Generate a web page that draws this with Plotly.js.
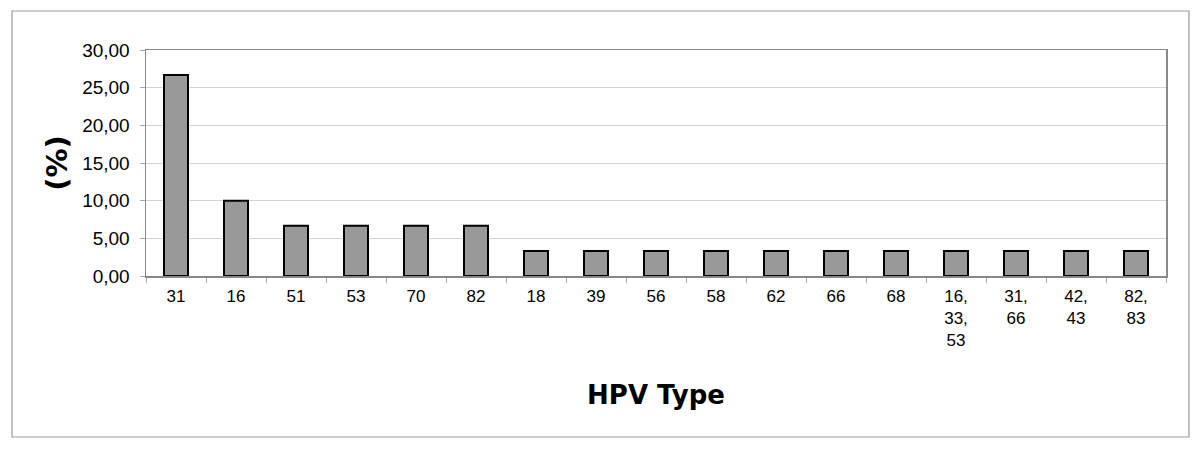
<!DOCTYPE html>
<html><head><meta charset="utf-8">
<script src="https://cdn.plot.ly/plotly-3.0.1.min.js"></script>
<style>body{margin:0;background:#fff}#c{width:1200px;height:449px}</style>
</head><body><div id="c"></div>
<script>
const categories = ["31","16","51","53","70","82","18","39","56","58","62","66","68","16,<br>33,<br>53","31,<br>66","42,<br>43","82,<br>83"];
const percent = [26.67,10.0,6.67,6.67,6.67,6.67,3.33,3.33,3.33,3.33,3.33,3.33,3.33,3.33,3.33,3.33,3.33];
const yTicks = [0,5,10,15,20,25,30];

const trace = {
  type:'bar', x: categories, y: percent,
  marker:{color:'#999999', line:{color:'#000000', width:2}},
  width:0.4, hoverinfo:'x+y'
};
const layout = {
  width:1200, height:449,
  margin:{l:146, r:34, t:50, b:173},
  paper_bgcolor:'#ffffff', plot_bgcolor:'#ffffff',
  separators:',.',
  showlegend:false,
  font:{family:'Liberation Sans, Arial, sans-serif', size:15, color:'#000'},
  xaxis:{
    type:'category', showline:true, mirror:true, linecolor:'#888888', linewidth:1.5,
    ticks:'outside', tickson:'boundaries', ticklen:5, tickcolor:'#aaaaaa',
    tickfont:{size:17, family:'Liberation Sans, Arial, sans-serif'},
    ticklabelstandoff:4,
    title:{text:'HPV Type', font:{family:'DejaVu Sans, Verdana, sans-serif', size:26, color:'#000', weight:'bold'}, standoff:36},
    showgrid:false, automargin:false
  },
  yaxis:{
    range:[0,30], tickvals:yTicks, tickformat:'.2f',
    showline:true, mirror:true, linecolor:'#888888', linewidth:1.5,
    ticks:'outside', ticklen:5, tickcolor:'#aaaaaa', ticklabelstandoff:6,
    gridcolor:'#d4d4d4', gridwidth:1, zeroline:false,
    tickfont:{size:19, family:'Liberation Sans, Arial, sans-serif'},
    title:{text:'(%)', font:{family:'DejaVu Sans, Verdana, sans-serif', size:29, color:'#000', weight:'bold'}, standoff:6},
    automargin:false
  },
  shapes:[{type:'rect', xref:'paper', yref:'paper', x0:-0.1314, x1:1.0225, y0:-0.7124, y1:1.1726,
    line:{color:'#999999', width:1.2}, fillcolor:'rgba(0,0,0,0)', layer:'below'}]
};
Plotly.newPlot('c',[trace],layout,{displayModeBar:false, staticPlot:true});
</script></body></html>
